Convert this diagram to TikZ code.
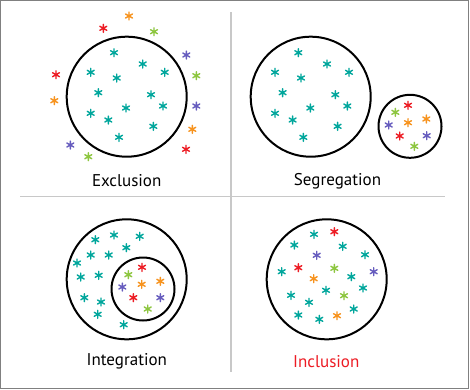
\documentclass[tikz,border=0pt]{standalone}
\usepackage{fontspec}
\setmainfont{PT Sans}
\definecolor{cteal}{RGB}{0,166,156}
\definecolor{cred}{RGB}{237,28,36}
\definecolor{corange}{RGB}{247,147,30}
\definecolor{cgreen}{RGB}{141,198,63}
\definecolor{cpurple}{RGB}{102,92,190}
\definecolor{framegray}{RGB}{128,128,128}
\definecolor{divgray}{RGB}{200,200,200}
\newcommand\mystar[3]{\draw[astar,#1] (#2,#3) ++(0,-4) -- ++(0,8) (#2,#3) ++(-3.46,-2) -- ++(6.93,4) (#2,#3) ++(-3.46,2) -- ++(6.93,-4);}
\begin{document}
\begin{tikzpicture}[x=1pt,y=-1pt,
  astar/.style={line width=1.4pt,line cap=round},
  ring/.style={draw=black,line width=2pt},
  lbl/.style={font=\fontsize{17}{20}\selectfont,text=black,inner sep=0pt}]
\useasboundingbox (0,0) rectangle (470,389);
\fill[white] (0,0) rectangle (470,389);
\draw[framegray,line width=1.2pt] (0.6,0.6) rectangle (468.6,388.2);
\draw[divgray,line width=1.5pt] (231,12) -- (231,372);
\draw[divgray,line width=1.5pt] (20,196.5) -- (445,196.5);
% circles
\draw[ring] (126.7,96.7) circle[radius=60];
\draw[ring] (310.7,96.7) circle[radius=60];
\draw[ring] (410,126.3) circle[radius=31.5];
\draw[ring] (126.7,279.3) circle[radius=60];
\draw[ring] (143,289) circle[radius=31.5];
\draw[ring] (326.7,279.3) circle[radius=60];
% Exclusion / Segregation teal
\foreach \dx in {0,184.3}{
\foreach \x/\y in {114/52.7,142.7/64,90.7/72.3,164.7/72.3,116.7/78,98.3/92.7,151/94.7,163/106,126/108,90.7/113.3,108.3/120,153.3/126.3,119/137.3}{
  \pgfmathsetmacro\xx{\x+\dx}
  \mystar{cteal}{\xx}{\y}}}
% Exclusion outside
\foreach \c/\x/\y in {corange/129/16,cred/103.3/28.3,cgreen/154/31.7,cpurple/186.3/55,cgreen/196.3/75.7,cred/56/74.7,corange/54.3/100.7,cpurple/196.3/106,corange/192.3/129.3,cred/186/149.3,cpurple/70.3/145,cgreen/88.3/156.7}{
  \mystar{\c}{\x}{\y}}
% Segregation small
\foreach \c/\x/\y in {cred/408/105.3,cgreen/395.3/112.3,corange/426.3/119,corange/408/122.7,cpurple/388.7/125,cred/399.7/136,cpurple/426.7/135.7,cgreen/414.3/146.3}{
  \mystar{\c}{\x}{\y}}
% Integration
\foreach \x/\y in {114/235,95.3/239.7,139.7/236.3,126.3/247.7,90.7/255,108.7/255,77/263,80.7/277,98.7/275.3,84.3/297.7,101/302,97.7/314.3,123.7/324.7}{
  \mystar{cteal}{\x}{\y}}
\foreach \c/\x/\y in {cred/142/267.3,cgreen/128.3/274.7,corange/160.3/281.3,corange/141.7/284.3,cpurple/122.3/287,cred/133.3/297.7,cpurple/160.3/297.7,cgreen/147.7/309}{
  \mystar{\c}{\x}{\y}}
% Inclusion
\foreach \c/\x/\y in {cteal/314/234.3,cred/334.3/231.7,cteal/294.3/245,cteal/342.7/246.3,cpurple/316.7/255.3,cteal/365/254.7,cteal/281.7/271.7,cred/298.3/267.7,cgreen/334.3/268.3,corange/313.7/278.7,cteal/351.3/276.7,cpurple/373.7/271.7,cteal/363/288,cteal/326/290.3,cteal/291/295.3,cgreen/344/295.7,cteal/309/302.3,cteal/353.7/309,cteal/298.3/315,cteal/319.3/319.3,corange/337/315.7}{
  \mystar{\c}{\x}{\y}}
% labels
\node[lbl] (exc) at (126.7,181) {Exclusion};
\node[lbl] (seg) at (337.5,181) {Segregation};
\node[lbl] (int) at (126.8,361.7) {Integration};
\node[lbl,text=cred] (inc) at (326.3,361.7) {Inclusion};
\end{tikzpicture}
\end{document}
